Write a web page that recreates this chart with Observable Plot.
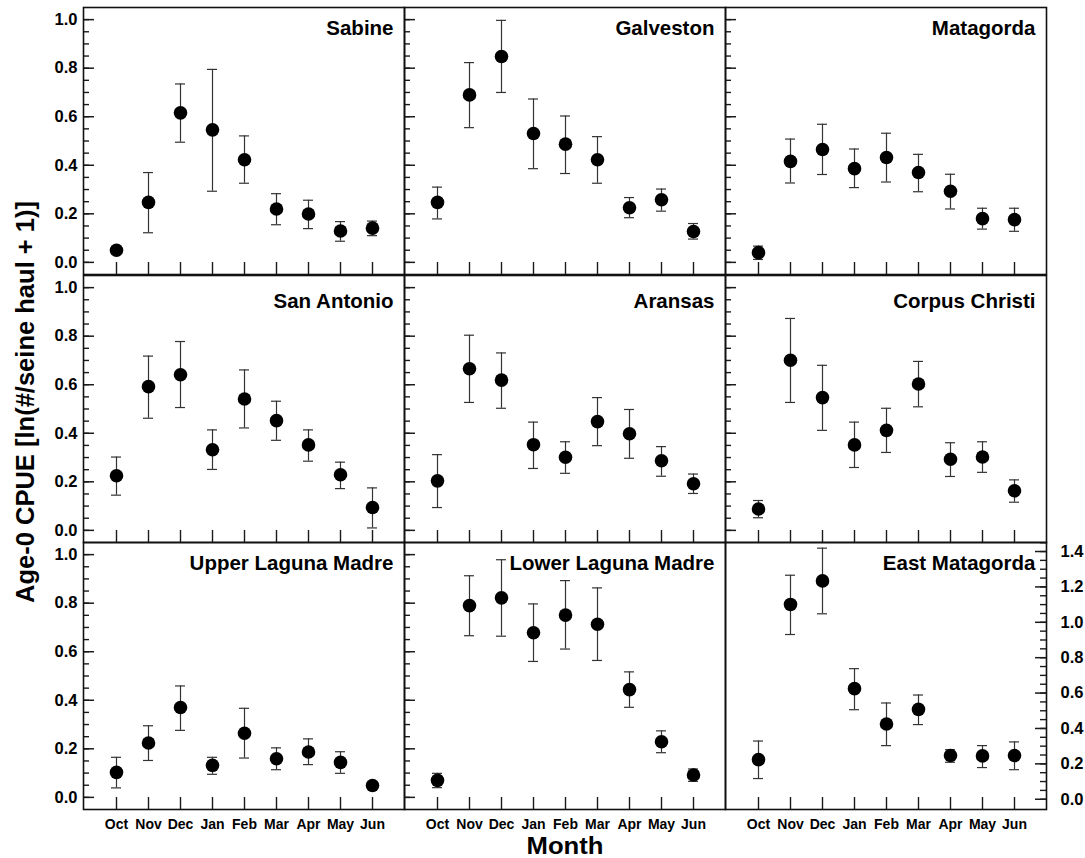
<!DOCTYPE html>
<html>
<head>
<meta charset="utf-8">
<script src="https://cdn.jsdelivr.net/npm/d3@7"></script>
<script src="https://cdn.jsdelivr.net/npm/@observablehq/plot@0.6"></script>
<style>
  html, body { margin: 0; padding: 0; background: #fff; }
  #chart { position: relative; width: 1085px; height: 858px; overflow: hidden;
           font-family: "Liberation Sans", Arial, Helvetica, sans-serif; color: #000; }
  .panel { position: absolute; }
  .panel svg { display: block; max-width: none; background: none; overflow: visible; }
  #titles { position: absolute; left: 0; top: 0; pointer-events: none; }
</style>
</head>
<body>
<div id="chart"></div>
<script>
// ---------- data ----------
const months = ["Oct", "Nov", "Dec", "Jan", "Feb", "Mar", "Apr", "May", "Jun"];

const yMajor = [0, 0.2, 0.4, 0.6, 0.8, 1.0];
const yMinor = [0, 0.05, 0.1, 0.15, 0.2, 0.25, 0.3, 0.35, 0.4, 0.45, 0.5, 0.55, 0.6, 0.65, 0.7, 0.75, 0.8, 0.85, 0.9, 0.95, 1.0];
const rMajor = [0, 0.2, 0.4, 0.6, 0.8, 1.0, 1.2, 1.4];
const rMinor = [0, 0.05, 0.1, 0.15, 0.2, 0.25, 0.3, 0.35, 0.4, 0.45, 0.5, 0.55, 0.6, 0.65, 0.7, 0.75, 0.8, 0.85, 0.9, 0.95, 1.0, 1.05, 1.1, 1.15, 1.2, 1.25, 1.3, 1.35, 1.4, 1.45];

const sabineMean = [0.05, 0.247, 0.616, 0.546, 0.423, 0.22, 0.199, 0.129, 0.141];
const sabineLo   = [0.035, 0.122, 0.495, 0.293, 0.326, 0.155, 0.139, 0.087, 0.11];
const sabineHi   = [0.065, 0.37, 0.735, 0.795, 0.521, 0.283, 0.256, 0.168, 0.17];

const galvestonMean = [0.247, 0.69, 0.848, 0.531, 0.487, 0.423, 0.225, 0.258, 0.127];
const galvestonLo   = [0.179, 0.555, 0.70, 0.386, 0.366, 0.326, 0.184, 0.211, 0.096];
const galvestonHi   = [0.31, 0.823, 0.997, 0.673, 0.603, 0.518, 0.267, 0.302, 0.16];

const matagordaMean = [0.04, 0.416, 0.465, 0.386, 0.432, 0.37, 0.293, 0.18, 0.176];
const matagordaLo   = [0.012, 0.327, 0.362, 0.308, 0.331, 0.291, 0.22, 0.137, 0.128];
const matagordaHi   = [0.067, 0.508, 0.569, 0.467, 0.532, 0.445, 0.363, 0.223, 0.223];

const sanAntonioMean = [0.225, 0.592, 0.641, 0.332, 0.541, 0.452, 0.352, 0.229, 0.094];
const sanAntonioLo   = [0.145, 0.462, 0.506, 0.251, 0.422, 0.371, 0.285, 0.172, 0.01];
const sanAntonioHi   = [0.302, 0.718, 0.778, 0.414, 0.661, 0.532, 0.414, 0.281, 0.175];

const aransasMean = [0.204, 0.666, 0.619, 0.353, 0.301, 0.448, 0.398, 0.287, 0.192];
const aransasLo   = [0.094, 0.527, 0.503, 0.255, 0.235, 0.349, 0.297, 0.223, 0.152];
const aransasHi   = [0.312, 0.804, 0.731, 0.446, 0.365, 0.547, 0.498, 0.345, 0.232];

const corpusMean = [0.088, 0.701, 0.547, 0.352, 0.412, 0.603, 0.293, 0.302, 0.163];
const corpusLo   = [0.052, 0.527, 0.412, 0.259, 0.321, 0.509, 0.222, 0.239, 0.116];
const corpusHi   = [0.123, 0.873, 0.68, 0.446, 0.503, 0.696, 0.361, 0.365, 0.208];

const upperLMMean = [0.103, 0.224, 0.37, 0.132, 0.264, 0.159, 0.187, 0.144, 0.049];
const upperLMLo   = [0.039, 0.152, 0.276, 0.095, 0.162, 0.114, 0.135, 0.099, 0.035];
const upperLMHi   = [0.165, 0.295, 0.459, 0.165, 0.367, 0.204, 0.241, 0.188, 0.063];

const lowerLMMean = [0.07, 0.79, 0.822, 0.678, 0.751, 0.713, 0.444, 0.229, 0.092];
const lowerLMLo   = [0.04, 0.666, 0.664, 0.56, 0.611, 0.564, 0.371, 0.184, 0.066];
const lowerLMHi   = [0.099, 0.913, 0.979, 0.797, 0.893, 0.863, 0.517, 0.274, 0.117];

const eastMatMean = [0.224, 1.101, 1.234, 0.625, 0.425, 0.508, 0.247, 0.245, 0.247];
const eastMatLo   = [0.117, 0.931, 1.048, 0.506, 0.303, 0.422, 0.209, 0.179, 0.167];
const eastMatHi   = [0.329, 1.266, 1.419, 0.738, 0.544, 0.589, 0.28, 0.303, 0.324];

const panels = [
  {name: "Sabine",             mean: sabineMean,     lo: sabineLo,     hi: sabineHi,     row: 0, col: 0},
  {name: "Galveston",          mean: galvestonMean,  lo: galvestonLo,  hi: galvestonHi,  row: 0, col: 1},
  {name: "Matagorda",          mean: matagordaMean,  lo: matagordaLo,  hi: matagordaHi,  row: 0, col: 2},
  {name: "San Antonio",        mean: sanAntonioMean, lo: sanAntonioLo, hi: sanAntonioHi, row: 1, col: 0},
  {name: "Aransas",            mean: aransasMean,    lo: aransasLo,    hi: aransasHi,    row: 1, col: 1},
  {name: "Corpus Christi",     mean: corpusMean,     lo: corpusLo,     hi: corpusHi,     row: 1, col: 2},
  {name: "Upper Laguna Madre", mean: upperLMMean,    lo: upperLMLo,    hi: upperLMHi,    row: 2, col: 0},
  {name: "Lower Laguna Madre", mean: lowerLMMean,    lo: lowerLMLo,    hi: lowerLMHi,    row: 2, col: 1},
  {name: "East Matagorda",     mean: eastMatMean,    lo: eastMatLo,    hi: eastMatHi,    row: 2, col: 2, rightAxis: true}
];

// ---------- layout ----------
const colLeft = [83, 404, 725];
const rowTop = [7, 275, 542];
const PW = 321, PH = 267;
const ML = 80, MR = 50, MT = 10, MB = 50;
const titleDy = [27, 32, 27];
const FONT = "Liberation Sans, Arial, Helvetica, sans-serif";
const barColor = "#333";
const tickColor = "#1a1a1a";
const MAJ = 11, MIN = 6, XT = 12;

const chart = document.getElementById("chart");

// overall axis titles (placed first, underneath the panels)
const NS = "http://www.w3.org/2000/svg";
const t = document.createElementNS(NS, "svg");
t.setAttribute("id", "titles");
t.setAttribute("width", 1085);
t.setAttribute("height", 858);
t.innerHTML =
  `<text transform="translate(34,402) rotate(-90)" text-anchor="middle" font-family="${FONT}" font-weight="bold" font-size="25" textLength="402" lengthAdjust="spacingAndGlyphs">Age-0 CPUE [ln(#/seine haul + 1)]</text>` +
  `<text x="565" y="854" text-anchor="middle" font-family="${FONT}" font-weight="bold" font-size="23" textLength="77" lengthAdjust="spacingAndGlyphs">Month</text>`;
chart.appendChild(t);

panels.forEach(p => {
  const rows = months.map((m, i) => ({month: m, mean: p.mean[i], lo: p.lo[i], hi: p.hi[i]}));
  const right = !!p.rightAxis;
  const major = right ? rMajor : yMajor;
  const minor = right ? rMinor : yMinor;
  const inset = len => right ? {insetLeft: PW - len} : {insetRight: PW - len};

  const marks = [
    // inward y ticks hugging the left (or right) frame edge
    Plot.ruleY(minor, {y: d => d, ...inset(MIN), stroke: tickColor, strokeWidth: 1.4}),
    Plot.ruleY(major, {y: d => d, ...inset(MAJ), stroke: tickColor, strokeWidth: 1.5}),
    // inward x ticks rising from the bottom edge
    Plot.ruleX(months, {x: d => d, insetTop: PH - XT, stroke: tickColor, strokeWidth: 1.4}),
    // error bars and means
    Plot.ruleX(rows, {x: "month", y1: "lo", y2: "hi", stroke: barColor, strokeWidth: 1.2}),
    Plot.tickY(rows, {x: "month", y: "hi", stroke: barColor, strokeWidth: 1.2}),
    Plot.tickY(rows, {x: "month", y: "lo", stroke: barColor, strokeWidth: 1.2}),
    Plot.dot(rows, {x: "month", y: "mean", r: 6.8, fill: "#000", stroke: "none"}),
    Plot.frame({stroke: "#111", strokeWidth: 1.6}),
    Plot.text([p.name], {frameAnchor: "top-right", text: d => d, dx: -11, dy: titleDy[p.row],
      textAnchor: "end", lineAnchor: "bottom", fontSize: 20.5, fontWeight: "bold", fontFamily: FONT, fill: "#000"})
  ];
  if (p.col === 0 || right) {
    marks.push(Plot.axisY({anchor: right ? "right" : "left", ticks: major, tickSize: 0, tickPadding: right ? 14 : 6,
      tickFormat: d3.format(".1f"), fontSize: 16.5, fontWeight: "bold", fontFamily: FONT, label: null}));
  }
  if (p.row === 2) {
    marks.push(Plot.axisX({anchor: "bottom", tickSize: 0, tickPadding: 10, fontSize: 14, fontWeight: "bold", fontFamily: FONT, label: null}));
  }

  const svg = Plot.plot({
    width: ML + PW + MR,
    height: MT + PH + MB,
    marginLeft: ML, marginRight: MR, marginTop: MT, marginBottom: MB,
    style: {background: "none", overflow: "visible"},
    x: {type: "band", domain: months, paddingInner: 0.688, paddingOuter: 0.844, axis: null},
    y: {domain: right ? [-0.058, 1.451] : [-0.05, 1.05], axis: null},
    marks
  });

  const wrap = document.createElement("div");
  wrap.className = "panel";
  wrap.style.left = (colLeft[p.col] - ML) + "px";
  wrap.style.top = (rowTop[p.row] - MT) + "px";
  wrap.appendChild(svg);
  chart.appendChild(wrap);
});
</script>
</body>
</html>
